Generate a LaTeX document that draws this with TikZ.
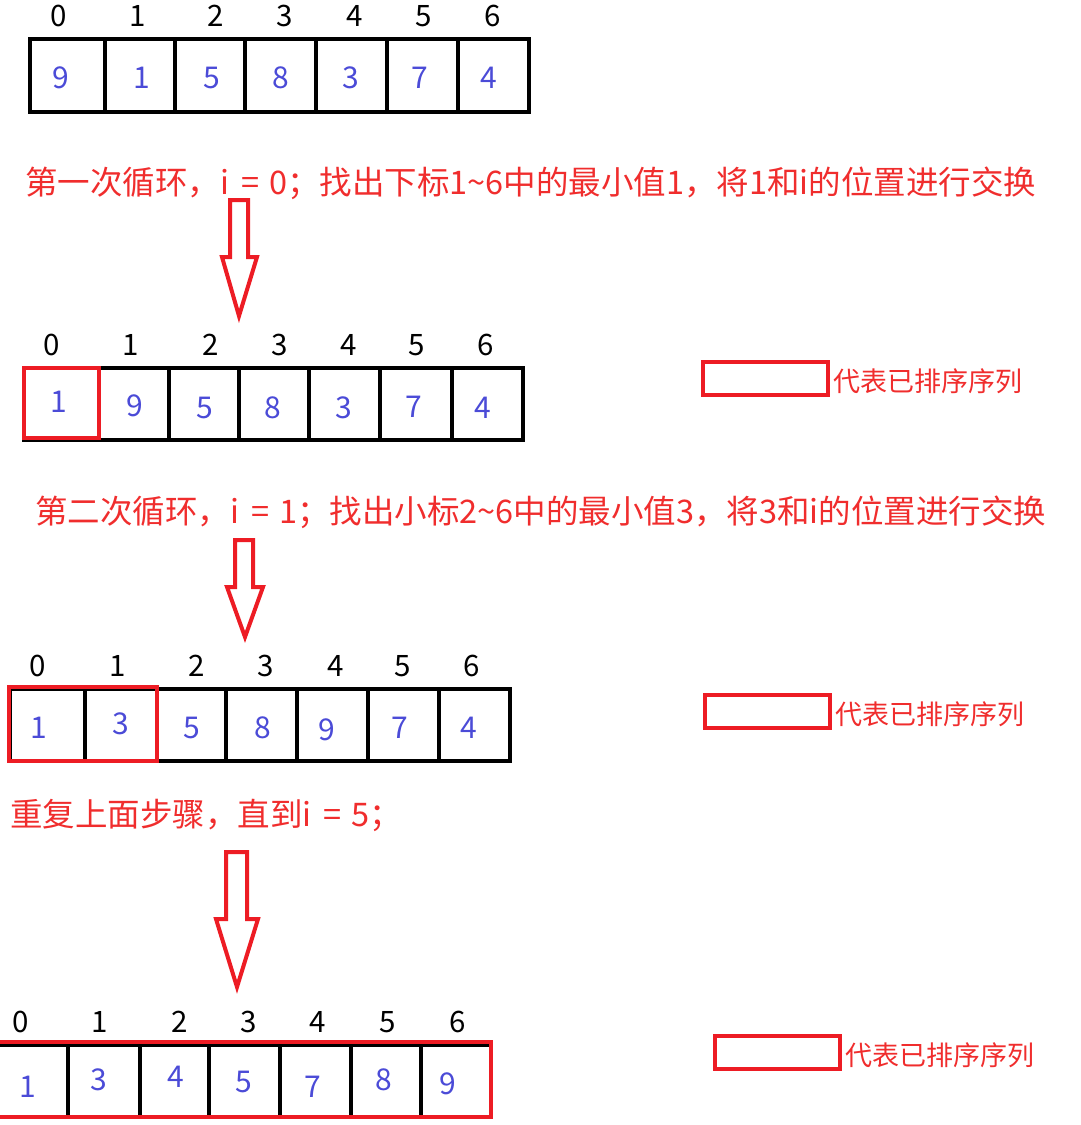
\documentclass[tikz,border=0pt]{standalone}
\usepackage{fontspec}
\setmainfont{Noto Sans CJK SC}
\definecolor{sred}{RGB}{237,28,36}
\definecolor{tred}{RGB}{240,45,45}
\definecolor{nblue}{RGB}{75,75,215}
\newcommand{\eqsp}[1]{i\hspace{12pt}=\hspace{10pt}#1}
\begin{document}
\begin{tikzpicture}[x=1pt,y=-1pt,
  cell/.style={draw=black, line width=4.5pt},
  sortbox/.style={draw=sred, line width=4pt},
  num/.style={text=nblue, font=\fontsize{30}{32}\selectfont, inner sep=0pt},
  idx/.style={text=black, font=\fontsize{29.5}{32}\selectfont, inner sep=0pt},
  captext/.style={text=tred, font=\fontsize{32.5}{35}\selectfont, anchor=west, inner sep=0pt},
  legtext/.style={text=tred, font=\fontsize{27}{29}\selectfont, anchor=west, inner sep=0pt},
  legbox/.style={draw=sred, line width=4pt, minimum width=125pt, minimum height=33pt, inner sep=0pt},
  blockarrow/.style={draw=sred, line width=4pt, line join=miter, fill=white}]
\useasboundingbox (0,0) rectangle (1080,1125);

% ---------- row 1 ----------
\foreach \xa/\xb in {30/105,105/175,175/245,245/316,316/387,387/458,458/529}
  \draw[cell] (\xa,39) rectangle (\xb,112);
\foreach \x/\v [count=\i] in {61/9,142/1,212/5,281/8,351/3,420/7,489/4}
  \node[num] (r1v\i) at (\x,78) {\v};
\foreach \x/\l [count=\i] in {59/0,138/1,216/2,285/3,355/4,424/5,493/6}
  \node[idx] (r1i\i) at (\x,16) {\l};

% caption 1
\node[captext] (cap1) at (25,183) {第一次循环，\eqsp{0}；找出下标1\char`~6中的最小值1，将1和i的位置进行交换};
\draw[blockarrow] (230,200) -- (248,200) -- (248,257) -- (257,257) -- (239,316) -- (222,257) -- (230,257) -- cycle;

% ---------- row 2 ----------
\foreach \xa/\xb in {24/99,99/169,169/239,239/309,309/380,380/452,452/523}
  \draw[cell] (\xa,368) rectangle (\xb,440);
\draw[sortbox] (24,368) rectangle (99,438);
\foreach \x/\v/\y [count=\i] in {59/1/402,135/9/406,205/5/408,273/8/408,344/3/408,414/7/407,483/4/408}
  \node[num] (r2v\i) at (\x,\y) {\v};
\foreach \x/\l [count=\i] in {52/0,131/1,211/2,280/3,349/4,417/5,486/6}
  \node[idx] (r2i\i) at (\x,345) {\l};
\node[legbox] (leg1) at (765.5,378.5) {};
\node[legtext] (leg1t) at (833,381) {代表已排序序列};

% caption 2
\node[captext] (cap2) at (35,512) {第二次循环，\eqsp{1}；找出小标2\char`~6中的最小值3，将3和i的位置进行交换};
\draw[blockarrow] (235,540) -- (253,540) -- (253,587) -- (263,587) -- (245,637) -- (227,587) -- (235,587) -- cycle;

% ---------- row 3 ----------
\foreach \xa/\xb in {10/85,85/157,157/226,226/297,297/368,368/439,439/510}
  \draw[cell] (\xa,689) rectangle (\xb,761);
\draw[sortbox] (9,687) rectangle (157,761);
\foreach \x/\v/\y [count=\i] in {39/1/728,121/3/724,192/5/728,263/8/728,327/9/730,400/7/728,469/4/728}
  \node[num] (r3v\i) at (\x,\y) {\v};
\foreach \x/\l [count=\i] in {38/0,118/1,197/2,266/3,336/4,403/5,472/6}
  \node[idx] (r3i\i) at (\x,666) {\l};
\node[legbox] (leg2) at (767.5,711) {};
\node[legtext] (leg2t) at (835,714) {代表已排序序列};

% caption 3
\node[captext] (cap3) at (10,815) {重复上面步骤，直到\eqsp{5}；};
\draw[blockarrow] (226,852) -- (247,852) -- (247,919) -- (258,919) -- (237,987) -- (216,919) -- (226,919) -- cycle;

% ---------- row 4 ----------
\foreach \xa/\xb in {-3/68,68/140,140/209,209/280,280/351,351/421,421/491}
  \draw[cell] (\xa,1045) rectangle (\xb,1117);
\draw[sortbox] (-5,1042) rectangle (491,1117);
\foreach \x/\v/\y [count=\i] in {28/1/1087,99/3/1080,176/4/1077,244/5/1082,313/7/1087,384/8/1080,448/9/1084}
  \node[num] (r4v\i) at (\x,\y) {\v};
\foreach \x/\l [count=\i] in {21/0,100/1,180/2,249/3,318/4,388/5,458/6}
  \node[idx] (r4i\i) at (\x,1022) {\l};
\node[legbox] (leg3) at (777.5,1052.5) {};
\node[legtext] (leg3t) at (845,1055) {代表已排序序列};
\end{tikzpicture}
\end{document}
